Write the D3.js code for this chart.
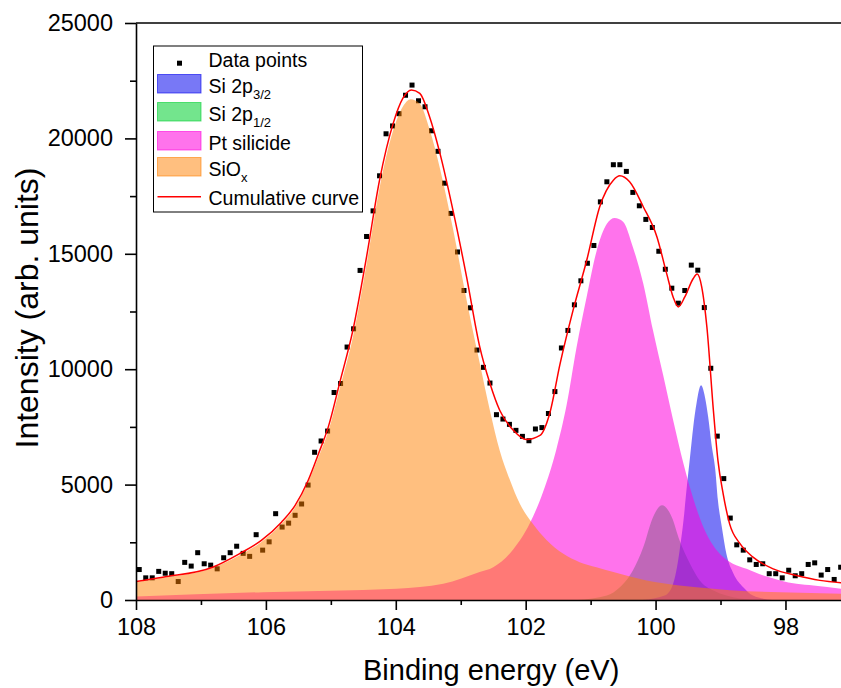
<!DOCTYPE html>
<html>
<head>
<meta charset="utf-8">
<script src="https://d3js.org/d3.v7.min.js"></script>
<style>
  body { margin: 0; background: #fff; }
  svg { display: block; font-family: Arial, "Liberation Sans", sans-serif; }
</style>
</head>
<body>
<svg id="chart" width="841" height="688"></svg>
<script>
// measured points [binding energy (eV), intensity]
const dataPoints = [
  [107.95,1320],[107.85,960],[107.75,960],[107.65,1240],[107.55,1160],[107.45,1140],[107.35,800],[107.25,1630],[107.15,1470],[107.05,2050],
  [106.95,1570],[106.85,1510],[106.75,1350],[106.65,1830],[106.55,2050],[106.45,2330],[106.35,2020],[106.25,1890],[106.15,2830],[106.05,2160],
  [105.95,2520],[105.85,3740],[105.75,3160],[105.65,3330],[105.55,3670],[105.45,4160],[105.35,4980],[105.25,6400],[105.15,6890],[105.05,7320],
  [104.95,8990],[104.85,9380],[104.75,10960],[104.65,11750],[104.55,14280],[104.45,15750],[104.35,16860],[104.25,18380],[104.15,20200],[104.05,20540],
  [103.95,21070],[103.85,21870],[103.75,22310],[103.65,21630],[103.55,21370],[103.45,20330],[103.35,19440],[103.25,18060],[103.15,16750],[103.05,15080],
  [102.95,13410],[102.85,12660],[102.75,10830],[102.65,10080],[102.55,9400],[102.45,8030],[102.35,7840],[102.25,7610],[102.15,7350],[102.05,7090],
  [101.95,6900],[101.85,7410],[101.75,7470],[101.65,8080],[101.55,9030],[101.45,10920],[101.35,11680],[101.25,12790],[101.15,13830],[101.05,14590],
  [100.95,15360],[100.85,17250],[100.75,18120],[100.65,18860],[100.55,18860],[100.45,18570],[100.35,17660],[100.25,17080],[100.15,16490],[100.05,16140],
  [99.95,15110],[99.85,14330],[99.75,13510],[99.65,12860],[99.55,13410],[99.45,14510],[99.35,14290],[99.25,12670],[99.15,10040],[99.05,7100],
  [98.95,5260],[98.85,3550],[98.75,2390],[98.65,2160],[98.55,1740],[98.45,1540],[98.35,1570],[98.25,1140],[98.15,1140],[98.05,960],
  [97.95,1290],[97.85,1050],[97.75,1140],[97.65,1540],[97.55,1610],[97.45,1080],[97.35,1320],[97.25,890],[97.15,1420]
];

// fitted components
const si2p12 = [
  [101.2,0],[100.75,195],[100.55,555],[100.35,1280],[100.19,2290],[100.04,3590],[99.90,4100],
  [99.75,3590],[99.63,2580],[99.47,1570],[99.32,850],[99.11,410],[98.91,195],[98.5,0]
];
const si2p32 = [
  [100.2,0],[99.86,195],[99.75,555],[99.68,1280],[99.63,2150],[99.57,3450],[99.52,4890],[99.47,6190],
  [99.42,7500],[99.37,8510],[99.30,9300],[99.24,8800],[99.19,7930],[99.14,6770],[99.08,5620],[99.04,4320],
  [98.98,3160],[98.91,2000],[98.80,1140],[98.65,555],[98.50,195],[98.2,0]
];
const ptSilicide = [
  [108.0,150],[106.05,340],[103.99,490],[103.27,700],[102.71,1210],[102.50,1420],[102.19,2200],[101.94,3300],
  [101.73,4700],[101.53,6500],[101.37,8450],[101.22,10900],[101.06,13150],[100.91,15100],[100.75,16300],[100.63,16550],
  [100.50,16390],[100.35,15300],[100.19,13710],[100.04,11690],[99.88,9700],[99.73,7800],[99.57,5900],[99.42,4400],
  [99.27,3200],[99.11,2350],[98.96,1860],[98.81,1570],[98.60,1350],[98.34,1060],[98.08,850],[97.83,700],[97.57,630],[97.14,490]
];
const siOx = [
  [108.0,770],[107.59,960],[106.82,1390],[106.41,1930],[106.07,2510],[105.76,3300],[105.55,4020],[105.35,5100],
  [105.19,6200],[105.04,7300],[104.86,9200],[104.66,11400],[104.45,14550],[104.25,17850],[104.04,20350],[103.89,21380],
  [103.77,21700],[103.63,21500],[103.48,20400],[103.32,18700],[103.12,16100],[102.91,13000],[102.71,10300],[102.55,8200],
  [102.40,6480],[102.24,5180],[102.09,4170],[101.89,3300],[101.68,2600],[101.42,2000],[101.17,1640],[100.91,1420],
  [100.65,1210],[100.14,850],[99.63,630],[99.11,490],[98.60,380],[98.08,340],[97.14,270]
];
const cumulative = [
  [108.0,800],[107.59,990],[106.82,1420],[106.41,2000],[106.07,2580],[105.76,3370],[105.55,4100],[105.35,5180],
  [105.19,6340],[105.04,7490],[104.86,9450],[104.66,11690],[104.45,14870],[104.25,18190],[104.04,20650],[103.89,21740],
  [103.76,22100],[103.63,21950],[103.48,20940],[103.32,19350],[103.12,16890],[102.91,14000],[102.71,11000],[102.55,9380],
  [102.40,8220],[102.19,7350],[101.99,6950],[101.78,7130],[101.63,8080],[101.47,10240],[101.27,12560],[101.06,14720],
  [100.86,17040],[100.65,18190],[100.55,18380],[100.40,18120],[100.19,17040],[99.98,15740],[99.83,14150],[99.73,13130],
  [99.65,12700],[99.55,13130],[99.42,13930],[99.36,14120],[99.29,13570],[99.21,11830],[99.11,8220],[99.04,6050],
  [98.96,4610],[98.86,3300],[98.70,2440],[98.50,1860],[98.19,1350],[97.83,1060],[97.47,850],[97.14,750]
];

const xMajorTicks = [108, 106, 104, 102, 100, 98];
const xMinorTicks = [107, 105, 103, 101, 99, 97];
const yMajorTicks = [0, 5000, 10000, 15000, 20000, 25000];
const yMinorTicks = [2500, 7500, 12500, 17500, 22500];

const plot = { left: 136, right: 841, top: 23, bottom: 600 };

const svg = d3.select('#chart');
const x = d3.scaleLinear().domain([108, 97.145]).range([plot.left, plot.right]);
const y = d3.scaleLinear().domain([0, 25000]).range([plot.bottom, plot.top]);

svg.append('defs').append('clipPath').attr('id', 'clip')
  .append('rect')
  .attr('x', plot.left).attr('y', plot.top)
  .attr('width', plot.right - plot.left).attr('height', plot.bottom - plot.top);

const layer = svg.append('g').attr('clip-path', 'url(#clip)');

// points sit under the fills (they look brown inside the orange peak)
layer.append('g').selectAll('rect')
  .data(dataPoints)
  .join('rect')
  .attr('x', d => x(d[0]) - 2.5)
  .attr('y', d => y(d[1]) - 2.5)
  .attr('width', 5).attr('height', 5)
  .attr('fill', '#000');

const components = [
  { data: si2p12, color: '#00d030', opacity: 0.55 },
  { data: si2p32, color: '#0000ee', opacity: 0.53 },
  { data: ptSilicide, color: '#ff00dd', opacity: 0.55 },
  { data: siOx, color: '#ff8000', opacity: 0.5 }
];

const area = d3.area()
  .curve(d3.curveMonotoneX)
  .x(d => x(d[0]))
  .y0(y(0))
  .y1(d => y(d[1]));

layer.selectAll('path.peak')
  .data(components)
  .join('path')
  .attr('class', 'peak')
  .attr('d', d => area(d.data))
  .attr('fill', d => d.color)
  .attr('fill-opacity', d => d.opacity);

const line = d3.line()
  .curve(d3.curveMonotoneX)
  .x(d => x(d[0]))
  .y(d => y(d[1]));

layer.append('path')
  .attr('d', line(cumulative))
  .attr('fill', 'none')
  .attr('stroke', '#ff0000')
  .attr('stroke-width', 1.5);

// axes
const fontSize = '23.5px';

const yAxis = svg.append('g')
  .attr('transform', `translate(${plot.left},0)`)
  .call(d3.axisLeft(y).tickValues(yMajorTicks).tickSize(11).tickPadding(12).tickSizeOuter(0).tickFormat(d3.format('d')));
svg.append('g')
  .attr('transform', `translate(${plot.left},0)`)
  .call(d3.axisLeft(y).tickValues(yMinorTicks).tickSize(6).tickSizeOuter(0).tickFormat(''))
  .select('.domain').remove();

const xAxis = svg.append('g')
  .attr('transform', `translate(0,${plot.bottom})`)
  .call(d3.axisBottom(x).tickValues(xMajorTicks).tickSize(10).tickPadding(8).tickSizeOuter(0).tickFormat(d3.format('d')));
svg.append('g')
  .attr('transform', `translate(0,${plot.bottom})`)
  .call(d3.axisBottom(x).tickValues(xMinorTicks).tickSize(5).tickSizeOuter(0).tickFormat(''))
  .select('.domain').remove();

svg.selectAll('.domain, .tick line').attr('stroke', '#000').attr('stroke-width', 1.6);
svg.selectAll('.tick text').attr('fill', '#000').style('font-size', fontSize).style('font-family', 'Arial, "Liberation Sans", sans-serif');

// top frame
svg.append('line')
  .attr('x1', plot.left).attr('x2', plot.right)
  .attr('y1', y(25000)).attr('y2', y(25000))
  .attr('stroke', '#000').attr('stroke-width', 1.6);

// titles
svg.append('text')
  .attr('x', 363).attr('y', 680)
  .style('font-size', '29px')
  .attr('fill', '#000')
  .text('Binding energy (eV)');

svg.append('text')
  .attr('transform', 'translate(38,308) rotate(-90)')
  .attr('text-anchor', 'middle')
  .style('font-size', '32px')
  .attr('fill', '#000')
  .text('Intensity (arb. units)');

// legend
const legendItems = [
  { type: 'point', text: 'Data points', sub: '' },
  { type: 'fill', text: 'Si 2p', sub: '3/2', comp: components[1] },
  { type: 'fill', text: 'Si 2p', sub: '1/2', comp: components[0] },
  { type: 'fill', text: 'Pt silicide', sub: '', comp: components[2] },
  { type: 'fill', text: 'SiO', sub: 'x', comp: components[3] },
  { type: 'line', text: 'Cumulative curve', sub: '' }
];
const legendBaselines = [20.7, 47, 75, 104, 130, 159];

const legend = svg.append('g').attr('transform', 'translate(153.5,46)');
legend.append('rect')
  .attr('width', 209).attr('height', 166)
  .attr('fill', '#fff').attr('stroke', '#000').attr('stroke-width', 1);

legendItems.forEach((item, i) => {
  const b = legendBaselines[i];
  const row = legend.append('g');
  if (item.type === 'point') {
    row.append('rect').attr('x', 23.5).attr('y', b - 6).attr('width', 5).attr('height', 5).attr('fill', '#000');
  } else if (item.type === 'fill') {
    row.append('rect').attr('x', 4).attr('y', b - 18.5).attr('width', 43.5).attr('height', 18.5)
      .attr('fill', '#fff');
    row.append('rect').attr('x', 4).attr('y', b - 18.5).attr('width', 43.5).attr('height', 18.5)
      .attr('fill', item.comp.color).attr('fill-opacity', item.comp.opacity)
      .attr('stroke', item.comp.color).attr('stroke-opacity', 0.6).attr('stroke-width', 1);
  } else {
    row.append('line').attr('x1', 4).attr('x2', 47.5).attr('y1', b - 8.3).attr('y2', b - 8.3)
      .attr('stroke', '#ff0000').attr('stroke-width', 1.5);
  }
  const t = row.append('text').attr('x', 55).attr('y', b).attr('fill', '#000').style('font-size', '19.5px');
  t.append('tspan').text(item.text);
  if (item.sub) {
    t.append('tspan').attr('dy', 6).style('font-size', '13px').text(item.sub);
  }
});
</script>
</body>
</html>
